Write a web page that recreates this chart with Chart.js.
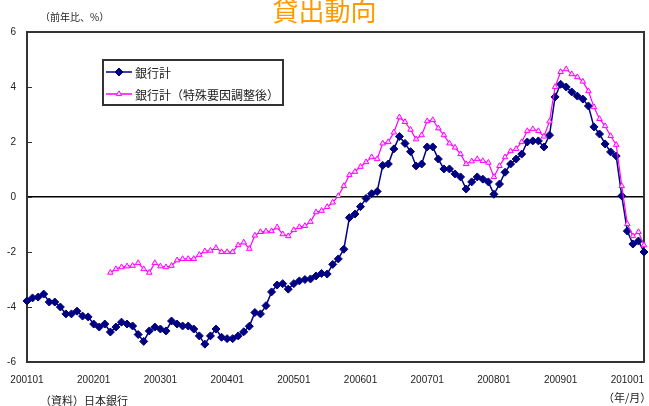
<!DOCTYPE html>
<html lang="ja">
<head>
<meta charset="utf-8">
<title>貸出動向</title>
<script src="https://cdn.jsdelivr.net/npm/chart.js@4.4.1/dist/chart.umd.min.js"></script>
<style>
  body { margin: 0; background: #fff; }
  #wrap { position: relative; width: 649px; height: 406px; overflow: hidden; font-family: "Noto Sans CJK JP", sans-serif; }
  #chart { position: absolute; left: 0; top: 0; }
  .txt { position: absolute; white-space: nowrap; color: #222; }
  #title { left: 0; width: 649px; top: -9px; text-align: center; font-size: 26px; color: #ff9900; }
  #unit { left: 40px; top: 9px; font-size: 10px; }
  #source { left: 40px; top: 392px; font-size: 11px; }
  #ym { left: 603px; top: 389px; font-size: 11px; }
</style>
</head>
<body>
<div id="wrap">
  <canvas id="chart" width="649" height="406"></canvas>
  <div class="txt" id="title">貸出動向</div>
  <div class="txt" id="unit">（前年比、%）</div>
  <div class="txt" id="source">（資料）日本銀行</div>
  <div class="txt" id="ym">（年/月）</div>
</div>
<script>
// ---- データ（2001年1月〜2010年4月、月次） ----
const START_YEAR = 2001;
const N_MONTHS = 112;
const months = [];
for (let k = 0; k < N_MONTHS; k++) {
    const y = START_YEAR + Math.floor(k / 12);
    const m = (k % 12) + 1;
    months.push(`${y}${String(m).padStart(2, '0')}`);
}

const SERIES_LABELS = ['銀行計', '銀行計（特殊要因調整後）'];

// 銀行計
const bankTotal = [
    -3.78, -3.67, -3.64, -3.53, -3.82, -3.82, -4.00, -4.25, -4.25, -4.15, -4.33, -4.36,
    -4.62, -4.73, -4.62, -4.91, -4.73, -4.55, -4.62, -4.69, -5.00, -5.25, -4.87, -4.73,
    -4.80, -4.87, -4.51, -4.62, -4.69, -4.69, -4.80, -5.05, -5.35, -5.05, -4.80, -5.10,
    -5.15, -5.15, -5.05, -4.90, -4.70, -4.20, -4.25, -3.95, -3.45, -3.20, -3.15, -3.35,
    -3.15, -3.05, -3.00, -2.98, -2.87, -2.78, -2.80, -2.45, -2.25, -1.90, -0.75, -0.62,
    -0.35, -0.05, 0.12, 0.20, 1.15, 1.20, 1.75, 2.20, 1.95, 1.65, 1.13, 1.20,
    1.82, 1.82, 1.38, 1.02, 1.02, 0.84, 0.73, 0.29, 0.55, 0.73, 0.65, 0.55,
    0.10, 0.47, 0.90, 1.20, 1.38, 1.56, 2.00, 2.04, 2.04, 1.82, 2.25, 3.64,
    4.10, 4.00, 3.82, 3.67, 3.56, 3.31, 2.55, 2.29, 1.93, 1.64, 1.49, 0.04,
    -1.24, -1.71, -1.60, -2.00,
];

// 銀行計（特殊要因調整後） 2002年4月から
const bankAdjusted = [
    null, null, null, null, null, null, null, null, null, null, null, null,
    null, null, null, -2.75, -2.62, -2.55, -2.52, -2.50, -2.40, -2.62, -2.75, -2.40,
    -2.52, -2.55, -2.50, -2.30, -2.25, -2.25, -2.25, -2.10, -1.97, -1.95, -1.85, -2.00,
    -2.00, -2.00, -1.75, -1.65, -1.88, -1.40, -1.27, -1.25, -1.24, -1.10, -1.35, -1.42,
    -1.20, -1.09, -1.05, -0.90, -0.55, -0.50, -0.36, -0.20, 0.04, 0.40, 0.80, 0.92,
    1.10, 1.27, 1.45, 1.38, 1.95, 2.00, 2.35, 2.90, 2.73, 2.45, 2.10, 2.25,
    2.76, 2.80, 2.50, 2.25, 1.95, 1.80, 1.56, 1.20, 1.30, 1.38, 1.31, 1.25,
    0.73, 1.13, 1.45, 1.67, 1.75, 2.00, 2.40, 2.47, 2.40, 2.20, 2.75, 4.00,
    4.55, 4.65, 4.47, 4.36, 4.20, 3.85, 3.27, 2.84, 2.58, 2.22, 1.90, 0.40,
    -0.98, -1.42, -1.27, -1.75,
];

const yTicks = [-6, -4, -2, 0, 2, 4, 6];

const NAVY = '#000080';
const MAGENTA = '#ff00ff';

// 枠線と内向きの目盛り
const frame = {
    id: 'frame',
    beforeDatasetsDraw(chart) {
        const { ctx, chartArea: a, scales } = chart;
        ctx.save();
        ctx.strokeStyle = '#333';
        ctx.lineWidth = 2;
        ctx.strokeRect(a.left, a.top, a.right - a.left, a.bottom - a.top);
        ctx.lineWidth = 1.2;
        ctx.beginPath();
        scales.y.ticks.forEach(t => {
            const y = Math.round(scales.y.getPixelForValue(t.value)) + 0.5;
            ctx.moveTo(a.left, y);
            ctx.lineTo(a.left + 5, y);
        });
        ctx.stroke();
        ctx.restore();
    },
};

// 凡例（グラフ内の枠付き）
const boxLegend = {
    id: 'boxLegend',
    afterDraw(chart) {
        const ctx = chart.ctx;
        ctx.save();
        ctx.fillStyle = '#fff';
        ctx.strokeStyle = '#333';
        ctx.lineWidth = 2;
        ctx.fillRect(103, 60, 180, 45);
        ctx.strokeRect(103, 60, 180, 45);
        chart.data.datasets.forEach((ds, k) => {
            const y = 72 + k * 22;
            ctx.strokeStyle = ds.borderColor;
            ctx.lineWidth = 1.5;
            ctx.beginPath();
            ctx.moveTo(106, y);
            ctx.lineTo(132, y);
            ctx.stroke();
            ctx.fillStyle = ds.pointBackgroundColor;
            ctx.strokeStyle = ds.pointBorderColor;
            ctx.lineWidth = 1;
            Chart.helpers.drawPoint(ctx, {
                pointStyle: ds.pointStyle, radius: ds.pointRadius, rotation: 0, borderWidth: 1,
            }, 119, y);
            ctx.fillStyle = '#222';
            ctx.font = '12px "Noto Sans CJK JP"';
            ctx.textBaseline = 'middle';
            ctx.fillText(ds.label, 135, y + 1);
        });
        ctx.restore();
    },
};

new Chart(document.getElementById('chart'), {
    type: 'line',
    data: {
        labels: months,
        datasets: [
            {
                label: SERIES_LABELS[0],
                data: bankTotal,
                borderColor: NAVY,
                borderWidth: 1.5,
                pointStyle: 'rectRot',
                pointRadius: 4,
                pointBackgroundColor: NAVY,
                pointBorderColor: NAVY,
                pointBorderWidth: 1,
                order: 1,
            },
            {
                label: SERIES_LABELS[1],
                data: bankAdjusted,
                borderColor: MAGENTA,
                borderWidth: 1.2,
                pointStyle: 'triangle',
                pointRadius: 3.2,
                pointBackgroundColor: '#ffd6ff',
                pointBorderColor: MAGENTA,
                pointBorderWidth: 1,
                order: 0,
            },
        ],
    },
    options: {
        responsive: false,
        animation: false,
        layout: { padding: { top: 32, right: 3, left: 0, bottom: 0 } },
        plugins: {
            legend: { display: false },
            tooltip: { enabled: false },
        },
        scales: {
            x: {
                type: 'category',
                offset: false,
                afterFit: s => { s.height = 44; },
                grid: { display: false },
                border: { display: false },
                ticks: {
                    autoSkip: false,
                    maxRotation: 0,
                    padding: 4,
                    color: '#222',
                    font: { family: 'Liberation Sans', size: 10 },
                    callback: function (v) {
                        const lab = this.getLabelForValue(v);
                        return lab.endsWith('01') ? lab : '';
                    },
                },
            },
            y: {
                min: -6,
                max: 6,
                afterFit: s => { s.width = 27; },
                afterBuildTicks: s => { s.ticks = yTicks.map(v => ({ value: v })); },
                grid: {
                    drawTicks: false,
                    color: c => (c.tick && c.tick.value === 0 ? '#000' : 'rgba(0,0,0,0)'),
                    lineWidth: 1.5,
                },
                border: { display: false },
                ticks: {
                    padding: 11,
                    color: '#222',
                    font: { family: 'Liberation Sans', size: 10 },
                },
            },
        },
    },
    plugins: [frame, boxLegend],
});
</script>
</body>
</html>
